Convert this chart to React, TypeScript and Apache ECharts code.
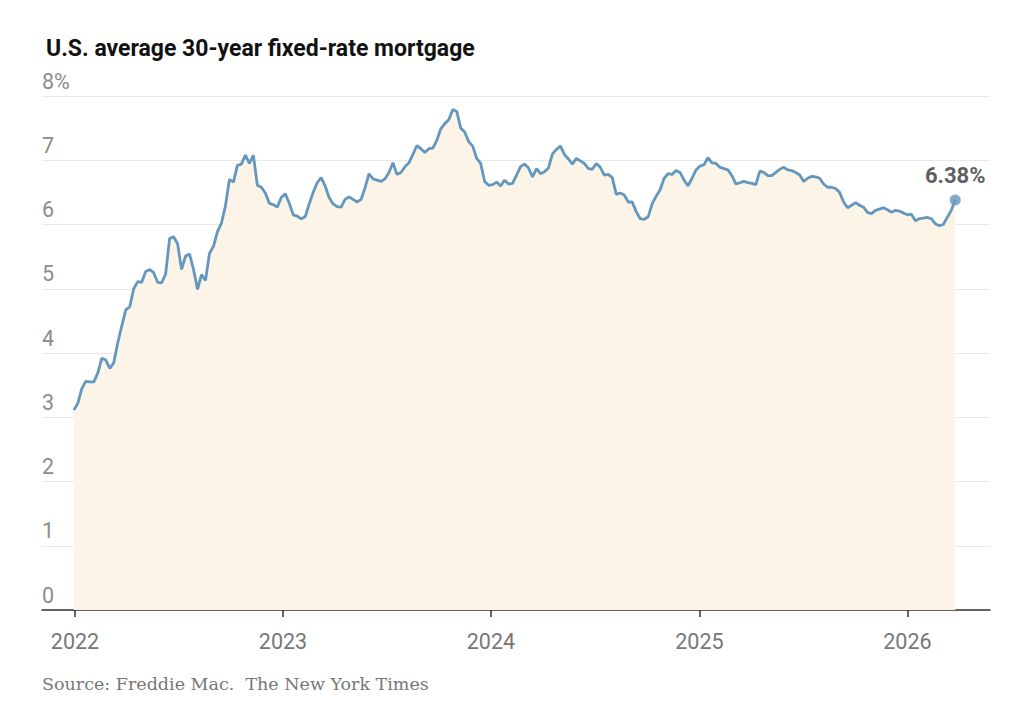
import React, { useEffect, useRef } from "react";
import * as echarts from "echarts";

// Weekly Freddie Mac 30-year fixed averages, first reading Dec 30, 2021
const firstWeek = [2021, 11, 30];
const rates2022 = [
  3.11, 3.22, 3.45, 3.56, 3.55, 3.55, 3.69, 3.92, 3.89, 3.76, 3.85, 4.16, 4.42, 4.67, 4.72, 5.0,
  5.11, 5.1, 5.27, 5.3, 5.25, 5.1, 5.09, 5.23, 5.78, 5.81, 5.7, 5.3, 5.51, 5.54, 5.3, 4.99, 5.22,
  5.13, 5.55, 5.66, 5.89, 6.02, 6.29, 6.7, 6.66, 6.92, 6.94, 7.08, 6.95, 7.08, 6.61, 6.58, 6.49,
  6.33, 6.31, 6.27, 6.42,
];
const rates2023 = [
  6.48, 6.33, 6.15, 6.13, 6.09, 6.12, 6.32, 6.5, 6.65, 6.73, 6.6, 6.42, 6.32, 6.28, 6.27, 6.39,
  6.43, 6.39, 6.35, 6.39, 6.57, 6.79, 6.71, 6.69, 6.67, 6.71, 6.81, 6.96, 6.78, 6.81, 6.9, 6.96,
  7.09, 7.23, 7.18, 7.12, 7.18, 7.19, 7.31, 7.49, 7.57, 7.63, 7.79, 7.76, 7.5, 7.44, 7.29, 7.22,
  7.03, 6.95, 6.67, 6.61,
];
const rates2024 = [
  6.62, 6.66, 6.6, 6.69, 6.63, 6.64, 6.77, 6.9, 6.94, 6.88, 6.74, 6.87, 6.79, 6.82, 6.88, 7.1,
  7.17, 7.22, 7.09, 7.02, 6.94, 7.03, 6.99, 6.95, 6.87, 6.86, 6.95, 6.89, 6.77, 6.78, 6.73, 6.47,
  6.49, 6.46, 6.35, 6.35, 6.2, 6.09, 6.08, 6.12, 6.32, 6.44, 6.54, 6.72, 6.79, 6.78, 6.84, 6.81,
  6.69, 6.6, 6.72, 6.85,
];
const rates2025 = [
  6.91, 6.93, 7.04, 6.96, 6.95, 6.89, 6.87, 6.85, 6.76, 6.63, 6.65, 6.67, 6.65, 6.64, 6.62, 6.83,
  6.81, 6.76, 6.76, 6.81, 6.86, 6.89, 6.85, 6.84, 6.81, 6.77, 6.67, 6.72, 6.75, 6.74, 6.72, 6.63,
  6.58, 6.58, 6.56, 6.5, 6.35, 6.26, 6.3, 6.34, 6.3, 6.27, 6.19, 6.17, 6.22, 6.24, 6.26, 6.23,
  6.19, 6.22, 6.21, 6.18,
];
const rates2026 = [6.15, 6.16, 6.06, 6.09, 6.1, 6.11, 6.09, 6.01, 5.98, 6.0, 6.11, 6.22, 6.38];

const yearLabels = ["2022", "2023", "2024", "2025", "2026"];
const yTicks = [0, 1, 2, 3, 4, 5, 6, 7, 8];

const DAY = 86400000;
const origin = Date.UTC(2022, 0, 1);

export default function App() {
  const ref = useRef<HTMLDivElement>(null);

  useEffect(() => {
    if (!ref.current) return;
    const chart = echarts.init(ref.current, null, { renderer: "svg" });

    const rates = [...rates2022, ...rates2023, ...rates2024, ...rates2025, ...rates2026];
    const start = (Date.UTC(firstWeek[0], firstWeek[1], firstWeek[2]) - origin) / DAY;
    const data = rates.map((v, i) => [start + 7 * i, v]);
    const last = data[data.length - 1];
    const tickDays = yearLabels.map((y) => (Date.UTC(Number(y), 0, 1) - origin) / DAY);

    const lineColor = "#6497bd";

    chart.setOption({
      animation: false,
      title: {
        text: "U.S. average 30-year fixed-rate mortgage",
        left: 41,
        top: 32,
        textStyle: {
          fontFamily: "Roboto",
          fontWeight: "bold",
          fontSize: 23,
          color: "#121212",
        },
      },
      grid: { left: 42, right: 34, top: 96, bottom: 118 },
      xAxis: {
        type: "value",
        min: -58,
        max: 1606,
        splitLine: { show: false },
        axisLine: { show: true, lineStyle: { color: "#333", width: 1.5 } },
        axisTick: {
          show: true,
          customValues: tickDays,
          length: 7,
          lineStyle: { color: "#333", width: 1.5 },
        },
        axisLabel: {
          customValues: tickDays,
          formatter: (v: number) => {
            const i = tickDays.indexOf(v);
            return i >= 0 ? yearLabels[i] : "";
          },
          fontFamily: "Roboto",
          fontSize: 21.5,
          color: "#777",
          margin: 20,
        },
      },
      yAxis: {
        type: "value",
        min: 0,
        max: 8,
        interval: 1,
        axisLine: { show: false },
        axisTick: { show: false },
        splitLine: { lineStyle: { color: "#e8e8e8", width: 1 } },
        axisLabel: {
          inside: true,
          margin: 0,
          align: "left",
          verticalAlign: "bottom",
          padding: [0, 0, 4, 0],
          fontFamily: "Roboto",
          fontSize: 21.5,
          color: "#8c8c8c",
          formatter: (v: number) => (v === yTicks[yTicks.length - 1] ? v + "%" : String(v)),
        },
      },
      series: [
        {
          type: "line",
          data,
          symbol: "none",
          lineStyle: { color: lineColor, width: 2.8 },
          areaStyle: { color: "#fcf4e7", opacity: 1 },
          z: 2,
        },
        {
          type: "scatter",
          data: [last],
          symbol: "circle",
          symbolSize: 11,
          itemStyle: { color: lineColor },
          label: {
            show: true,
            position: "top",
            distance: 8,
            formatter: (p: any) => p.value[1].toFixed(2) + "%",
            fontFamily: "Roboto",
            fontWeight: "bold",
            fontSize: 22,
            color: "#333",
          },
          z: 3,
        },
      ],
      graphic: [
        {
          type: "text",
          left: 42,
          top: 675,
          style: {
            text: "Source: Freddie Mac.  The New York Times",
            font: '17.5px "DejaVu Serif"',
            fill: "#777",
          },
        },
      ],
    });

    return () => chart.dispose();
  }, []);

  return (
    <div
      ref={ref}
      style={{ position: "absolute", left: 0, top: 0, width: 1024, height: 728 }}
    />
  );
}
